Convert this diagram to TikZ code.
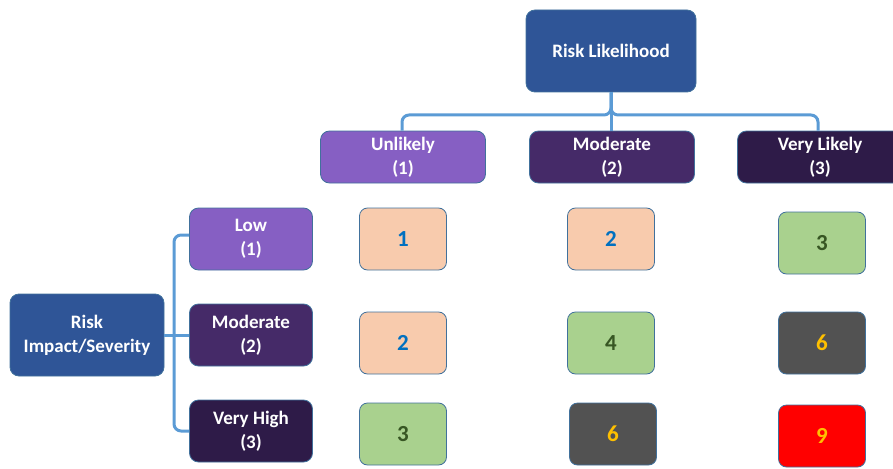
\documentclass[tikz,border=0pt]{standalone}
\usepackage{fontspec}
\setmainfont{Carlito}
\definecolor{hdrblue}{HTML}{2F5597}
\definecolor{edgeblue}{HTML}{41719C}
\definecolor{purpA}{HTML}{865FC3}
\definecolor{purpB}{HTML}{452A68}
\definecolor{purpC}{HTML}{2E1B48}
\definecolor{peach}{HTML}{F8CBAD}
\definecolor{numblue}{HTML}{0070C0}
\definecolor{lgreen}{HTML}{A9D18E}
\definecolor{dgreen}{HTML}{375623}
\definecolor{dgrey}{HTML}{525252}
\definecolor{gold}{HTML}{FFC000}
\definecolor{linkblue}{HTML}{5B9BD5}
\begin{document}
\begin{tikzpicture}[x=1pt,y=-1pt,
  box/.style={draw=edgeblue, line width=0.8pt, rounded corners=9pt, inner sep=0pt, align=center,
    font=\fontsize{19}{24}\selectfont\bfseries, text=white},
  bigbox/.style={box, minimum width=#1, minimum height=82pt, fill=hdrblue},
  colbox/.style={box, minimum width=165pt, minimum height=52pt, fill=#1},
  rowbox/.style={box, minimum width=123pt, minimum height=62pt, fill=#1},
  cell/.style={draw=edgeblue, line width=0.8pt, rounded corners=8pt, minimum width=87pt, minimum height=62pt,
    inner sep=0pt, font=\fontsize{23}{27}\selectfont\bfseries},
  peachcell/.style={cell, fill=peach, text=numblue},
  greencell/.style={cell, fill=lgreen, text=dgreen},
  greycell/.style={cell, fill=dgrey, text=gold},
  redcell/.style={cell, fill=red, text=gold},
  link/.style={draw=linkblue, line width=3pt, rounded corners=7pt}
]
\useasboundingbox (0,0) rectangle (893,468);

\node[bigbox=170pt] (RL) at (611,51) {Risk Likelihood};
\node[colbox=purpA] (C1) at (403,157) {Unlikely\\(1)};
\node[colbox=purpB] (C2) at (612,157) {Moderate\\(2)};
\node[colbox=purpC] (C3) at (820,157) {Very Likely\\(3)};

\node[bigbox=154pt] (RI) at (87,335) {Risk\\Impact/Severity};
\node[rowbox=purpA] (R1) at (251,239) {Low\\(1)};
\node[rowbox=purpB] (R2) at (251,335) {Moderate\\(2)};
\node[rowbox=purpC] (R3) at (251,431) {Very High\\(3)};

\node[peachcell] (A11) at (403,239) {1};
\node[peachcell] (A12) at (611,239) {2};
\node[greencell] (A13) at (822,243) {3};
\node[peachcell] (A21) at (403,343) {2};
\node[greencell] (A22) at (611,343) {4};
\node[greycell] (A23) at (822,343) {6};
\node[greencell] (A31) at (403,434) {3};
\node[greycell] (A32) at (613,434) {6};
\node[redcell] (A33) at (822,436) {9};

% top bracket
\coordinate (J) at (611,115);
\draw[link] (C1.north -| 402,0) |- (J) -- (RL.south);
\draw[link] (C3.north -| 818,0) |- (J) -- (RL.south);
\draw[link] (RL.south) -- (J) -- (J |- C2.north);

% left bracket
\coordinate (K) at (174,335);
\draw[link] ([yshift=4pt]R1.west) -| (K);
\draw[link] (R3.west) -| (K);
\draw[link] (RI.east) -- (R2.west);
\end{tikzpicture}
\end{document}
